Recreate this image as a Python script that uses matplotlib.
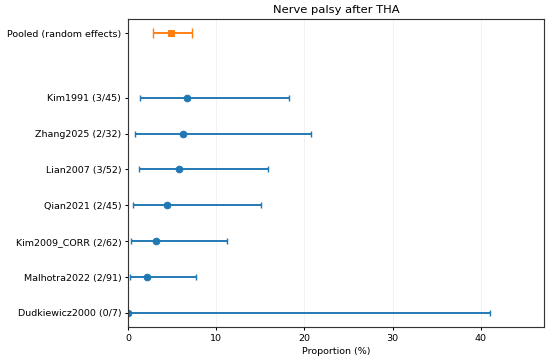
import numpy as np
import matplotlib
matplotlib.use("Agg")
import matplotlib.pyplot as plt

# study estimates (%)
studies = ["Dudkiewicz2000 (0/7)", "Malhotra2022 (2/91)", "Kim2009_CORR (2/62)",
           "Qian2021 (2/45)", "Lian2007 (3/52)", "Zhang2025 (2/32)", "Kim1991 (3/45)"]
prop = [0.0, 2.2, 3.23, 4.44, 5.77, 6.25, 6.67]
lower = [0.0, 0.27, 0.39, 0.54, 1.2, 0.77, 1.4]
upper = [41.0, 7.7, 11.2, 15.1, 15.9, 20.8, 18.3]

pooled_label = "Pooled (random effects)"
pooled = 4.9
pooled_lo = 2.8
pooled_hi = 7.3

# drawn at a bigger size and scaled down, like the reference
fig, ax = plt.subplots(figsize=(8, 5.2655), dpi=68.75)
fig.subplots_adjust(left=0.2327, right=0.989, top=0.9475, bottom=0.0967)

y = np.arange(len(studies))
prop = np.array(prop)
err = [prop - np.array(lower), np.array(upper) - prop]
ax.errorbar(prop, y, xerr=err, fmt='o', color='tab:blue', capsize=3,
            markersize=7, elinewidth=2, capthick=1.5)

y_pool = len(studies) + 0.8
ax.errorbar([pooled], [y_pool], xerr=[[pooled - pooled_lo], [pooled_hi - pooled]],
            fmt='s', color='tab:orange', capsize=5, markersize=7, elinewidth=2,
            capthick=1.5)

ax.set_yticks(list(y) + [y_pool])
ax.set_yticklabels(studies + [pooled_label])
ax.set_xlim(0, max(upper) * 1.15)
ax.set_xlabel("Proportion (%)")
ax.set_title("Nerve palsy after THA")
ax.grid(axis='x', alpha=0.2)
for s in ax.spines.values():
    s.set_linewidth(1.2)
    s.set_color('#333333')
ax.tick_params(width=1.1)

plt.savefig("out.png")
